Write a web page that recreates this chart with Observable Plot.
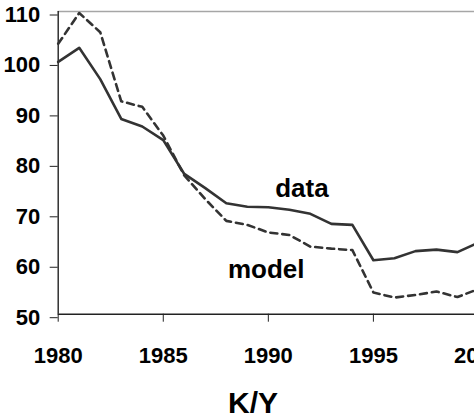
<!DOCTYPE html>
<html>
<head>
<meta charset="utf-8">
<script src="https://cdn.jsdelivr.net/npm/d3@7"></script>
<script src="https://cdn.jsdelivr.net/npm/@observablehq/plot@0.6"></script>
<style>
  html, body { margin: 0; padding: 0; background: #fff; overflow: hidden; width: 474px; height: 418px; }
  #wrap { position: relative; width: 474px; height: 418px; overflow: hidden; font-family: "Liberation Sans", Arial, sans-serif; }
  #caption { position: absolute; left: 0; width: 506px; top: 388px; text-align: center; font-size: 30px; line-height: 30px; font-weight: bold; color: #000; }
  #chart svg { position: absolute; left: 0; top: 0; max-width: none !important; width: 520px !important; height: 418px !important; }
</style>
</head>
<body>
<div id="wrap"><div id="chart"></div><div id="caption">K/Y</div></div>
<script>
const years = [1980,1981,1982,1983,1984,1985,1986,1987,1988,1989,1990,1991,1992,1993,1994,1995,1996,1997,1998,1999,2000];
const dataValues = [100.0,102.8,96.6,88.7,87.2,84.5,77.8,75.0,72.0,71.3,71.2,70.7,69.9,67.9,67.7,60.7,61.1,62.5,62.8,62.3,64.2];
const modelValues = [103.6,109.7,105.9,92.2,91.1,85.4,77.5,72.8,68.5,67.7,66.2,65.7,63.4,63.0,62.7,54.3,53.3,53.8,54.5,53.4,55.0];
const xTicks = [1980,1985,1990,1995,2000];
const yTicks = [50,60,70,80,90,100,110];
const seriesLabels = [
  {text: "data", year: 1991.6, value: 74.9},
  {text: "model", year: 1989.9, value: 58.8}
];

const dataRows = years.map((y, i) => ({year: y, value: dataValues[i]}));
const modelRows = years.map((y, i) => ({year: y, value: modelValues[i]}));

const chart = Plot.plot({
  width: 520,
  height: 418,
  marginLeft: 57.7,
  marginRight: 0,
  marginTop: 11,
  marginBottom: 104.3,
  style: {fontFamily: "'Liberation Sans', Arial, sans-serif", fontWeight: "bold", color: "#000", background: "transparent", overflow: "visible", maxWidth: "none"},
  x: {domain: [1980, 2002], ticks: xTicks, tickFormat: d => String(d)},
  y: {domain: [50, 110], ticks: yTicks},
  marks: [
    Plot.ruleY([110], {stroke: "#a6a6a6", strokeWidth: 1.5}),
    Plot.axisX({ticks: xTicks, tickFormat: d => String(d), tickSize: 8, tickPadding: 24.7, fontSize: 22, label: null, stroke: "#222"}),
    Plot.axisY({ticks: yTicks, tickSize: 8, tickPadding: 10, fontSize: 22, dy: 3.5, label: null, stroke: "#222"}),
    Plot.ruleX([1980], {stroke: "#222", strokeWidth: 1.4}),
    Plot.ruleY([50], {stroke: "#222", strokeWidth: 1.4}),
    Plot.line(modelRows, {x: "year", y: "value", stroke: "#333", strokeWidth: 2.6, strokeDasharray: "7,5"}),
    Plot.line(dataRows, {x: "year", y: "value", stroke: "#333", strokeWidth: 2.6}),
    Plot.text(seriesLabels, {x: "year", y: "value", text: "text", fontSize: 26, fontWeight: "bold", fill: "#000", textAnchor: "middle"})
  ]
});
document.getElementById("chart").appendChild(chart);
</script>
</body>
</html>
